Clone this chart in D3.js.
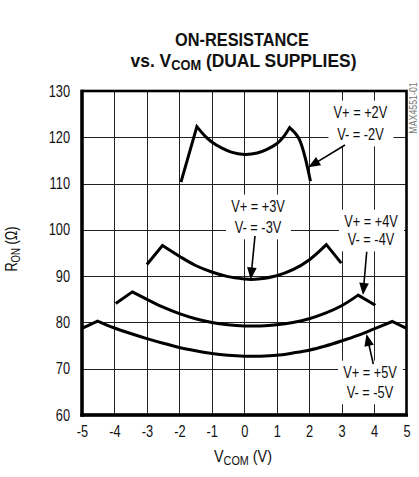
<!DOCTYPE html>
<html><head><meta charset="utf-8">
<script src="https://cdn.jsdelivr.net/npm/d3@7"></script>
<style>
html,body{margin:0;padding:0;background:#fff;}
svg{display:block;}
text{font-family:'Liberation Sans',Arial,sans-serif;fill:#111;}
</style></head>
<body>
<svg id="c" width="419" height="477"></svg>
<script>
// ---- data ----
const xTicks = [-5,-4,-3,-2,-1,0,1,2,3,4,5];
const yTicks = [60,70,80,90,100,110,120,130];
const xGrid = [-4,-3,-2,-1,0,1,2,3,4];
const yGrid = [70,80,90,100,110,120];

const s2x = [-1.95,-1.46,-1.2,-1.0,-0.7,-0.4,0,0.4,0.7,1.0,1.2,1.4,1.68,2.04];
const s2y = [110.3,122.3,120.2,119.0,117.7,116.8,116.3,116.6,117.4,118.6,120.0,122.1,119.8,110.5];
const s3x = [-3.0,-2.52,-2,-1.5,-1,-0.5,0,0.2,0.5,1,1.5,2,2.53,2.99];
const s3y = [92.5,96.6,94.3,92.3,90.9,89.9,89.4,89.3,89.45,90.1,91.4,93.5,96.8,92.8];
const s4x = [-3.96,-3.45,-3,-2.5,-2,-1.5,-1,-0.5,0,0.5,1,1.5,2,2.5,3,3.51,4.04];
const s4y = [84.1,86.6,85.0,83.3,81.9,80.8,80.0,79.5,79.25,79.25,79.5,80.0,80.8,82.0,83.6,85.9,83.7];
const s5x = [-5,-4.52,-4,-3.5,-3,-2.5,-2,-1.5,-1,-0.5,0,0.5,1,1.5,2,2.5,3,3.5,4,4.56,5];
const s5y = [78.7,80.3,78.8,77.6,76.5,75.5,74.6,73.9,73.3,72.9,72.7,72.7,72.9,73.4,74.0,74.9,76.0,77.2,78.6,80.2,78.7];

const labelTexts = [["V+ = +2V","V- = -2V"],["V+ = +3V","V- = -3V"],["V+ = +4V","V- = -4V"],["V+ = +5V","V- = -5V"]];

// ---- layout ----
const K = 0.8; // horizontal condensation to mimic a narrow face
const svg = d3.select("#c");
const x = d3.scaleLinear().domain([-5,5]).range([82,406.5]);
const y = d3.scaleLinear().domain([60,130]).range([415,91]);

function condense(node,k,pre){
  const X = +(node.getAttribute("x")||0), Y = +(node.getAttribute("y")||0);
  node.setAttribute("transform",(pre||"")+` translate(${X},${Y}) scale(${k},1) translate(${-X},${-Y})`);
}

// grid
svg.append("g").selectAll("line").data(xGrid).join("line")
  .attr("x1",d=>Math.round(x(d))+0.5).attr("x2",d=>Math.round(x(d))+0.5)
  .attr("y1",y(130)).attr("y2",y(60)).attr("stroke","#222").attr("stroke-width",1);
svg.append("g").selectAll("line").data(yGrid).join("line")
  .attr("y1",d=>Math.round(y(d))+0.5).attr("y2",d=>Math.round(y(d))+0.5)
  .attr("x1",x(-5)).attr("x2",x(5)).attr("stroke","#222").attr("stroke-width",1);

// label specs (data coords: center x, baseline y line1, line2)
const labelPos = [
  {cx:3.58, b1:124.17, b2:119.41},
  {cx:0.424, b1:103.86, b2:99.32},
  {cx:3.906, b1:100.62, b2:96.73},
  {cx:3.875, b1:67.99, b2:63.67}
];
const arrows = [
  {x0:3.105,y0:118.33,x1:1.974,y1:113.52},
  {x0:0.331,y0:98.67,x1:0.199,y1:89.27},
  {x0:3.774,y0:95.28,x1:3.659,y1:85.93},
  {x0:3.977,y0:71.02,x1:3.767,y1:77.50}
];

const labG = svg.append("g");
labelTexts.forEach((lines,i)=>{
  const p = labelPos[i];
  const g = labG.append("g");
  const rect = g.append("rect").attr("fill","#fff");
  const t1 = g.append("text").attr("x",x(p.cx)).attr("y",y(p.b1)).attr("text-anchor","middle").attr("font-size",16).text(lines[0]);
  const t2 = g.append("text").attr("x",x(p.cx)).attr("y",y(p.b2)).attr("text-anchor","middle").attr("font-size",16).text(lines[1]);
  condense(t1.node(),K); condense(t2.node(),K);
  const b1 = t1.node().getBBox(), b2 = t2.node().getBBox();
  const cx = x(p.cx);
  const hw = Math.max(b1.width,b2.width)*K/2;
  const x0 = cx-hw-5, x1 = cx+hw+6;
  const y0 = b1.y-3, y1 = b2.y+b2.height+3;
  rect.attr("x",x0).attr("y",y0).attr("width",x1-x0).attr("height",y1-y0);
});

// frame
svg.append("rect").attr("x",x(-5)).attr("y",y(130)).attr("width",x(5)-x(-5)).attr("height",y(60)-y(130))
  .attr("fill","none").attr("stroke","#000").attr("stroke-width",2.6);
svg.append("line").attr("x1",x(-5)).attr("x2",x(-5)).attr("y1",y(130)-1.3).attr("y2",y(60)+1.8).attr("stroke","#000").attr("stroke-width",3.4);
svg.append("line").attr("x1",x(-5)-1.7).attr("x2",x(5)+1.5).attr("y1",y(60)).attr("y2",y(60)).attr("stroke","#000").attr("stroke-width",3.4);

// curves: split at local maxima to keep sharp peaks
function drawSeries(xs,ys){
  const pts = xs.map((v,i)=>[v,ys[i]]);
  const cuts=[0];
  for(let i=1;i<pts.length-1;i++) if(ys[i]>ys[i-1]&&ys[i]>ys[i+1]) cuts.push(i);
  cuts.push(pts.length-1);
  const line = d3.line().x(d=>x(d[0])).y(d=>y(d[1])).curve(d3.curveCatmullRom.alpha(0.5));
  let dstr="";
  for(let k=0;k<cuts.length-1;k++){
    const seg = pts.slice(cuts[k],cuts[k+1]+1);
    let s = line(seg);
    if(k>0) s = "L"+s.slice(1);
    dstr += s;
  }
  svg.append("path").attr("d",dstr).attr("fill","none").attr("stroke","#000")
    .attr("stroke-width",3).attr("stroke-linejoin","miter").attr("stroke-linecap","butt");
}
drawSeries(s2x,s2y); drawSeries(s3x,s3y); drawSeries(s4x,s4y); drawSeries(s5x,s5y);

// arrows
arrows.forEach(a=>{
  const X0=x(a.x0),Y0=y(a.y0),X1=x(a.x1),Y1=y(a.y1);
  const dx=X1-X0, dy=Y1-Y0, L=Math.hypot(dx,dy), ux=dx/L, uy=dy/L;
  const hl=12, hw=4.8;
  const bx=X1-ux*hl, by=Y1-uy*hl;
  svg.append("line").attr("x1",X0).attr("y1",Y0).attr("x2",bx+ux*2).attr("y2",by+uy*2)
    .attr("stroke","#000").attr("stroke-width",1.6);
  svg.append("path").attr("d",`M${X1},${Y1}L${bx-uy*hw},${by+ux*hw}L${bx+uy*hw},${by-ux*hw}Z`).attr("fill","#000");
});

// axes
const fmt = d=>String(d);
const gx = svg.append("g").attr("transform",`translate(0,${y(60)})`)
  .call(d3.axisBottom(x).tickValues(xTicks).tickSize(0).tickPadding(11).tickFormat(fmt));
gx.select(".domain").remove();
gx.selectAll("text").attr("font-size",16).attr("font-family",null).attr("fill","#111").each(function(){condense(this,K);});
const gy = svg.append("g").attr("transform",`translate(${x(-5)},0)`)
  .call(d3.axisLeft(y).tickValues(yTicks).tickSize(0).tickPadding(12).tickFormat(fmt));
gy.select(".domain").remove();
gy.selectAll("text").attr("font-size",16).attr("font-family",null).attr("fill","#111").each(function(){condense(this,K);});

// titles (fit to reference widths)
function fit(sel,target){
  const w = sel.node().getComputedTextLength();
  condense(sel.node(),target/w);
}
const tcx = 242;
const t1 = svg.append("text").attr("x",tcx).attr("y",46.5).attr("text-anchor","middle").attr("font-size",19).attr("font-weight","bold").text("ON-RESISTANCE");
fit(t1,134);
const t2 = svg.append("text").attr("x",tcx+1.5).attr("y",67).attr("text-anchor","middle").attr("font-size",19).attr("font-weight","bold");
t2.append("tspan").text("vs. V");
t2.append("tspan").attr("font-size",14).attr("dy",3).text("COM");
t2.append("tspan").attr("dy",-3).text(" (DUAL SUPPLIES)");
fit(t2,226);

// x label
const xl = svg.append("text").attr("x",243).attr("y",462).attr("text-anchor","middle").attr("font-size",16);
xl.append("tspan").text("V");
xl.append("tspan").attr("font-size",12).attr("dy",3).text("COM");
xl.append("tspan").attr("dy",-3).text(" (V)");
fit(xl,58);

// y label
const yl = svg.append("text").attr("transform",`translate(17,249) rotate(-90) scale(${K},1)`).attr("text-anchor","middle").attr("font-size",16);
yl.append("tspan").text("R");
yl.append("tspan").attr("font-size",12).attr("dy",3).text("ON");
yl.append("tspan").attr("dy",-3).text(" (Ω)");

// side code
svg.append("text").attr("transform",`translate(417,108) rotate(-90) scale(${K},1)`).attr("text-anchor","middle").attr("font-size",11).style("fill","#777").text("MAX4551-01");
</script>
</body></html>
